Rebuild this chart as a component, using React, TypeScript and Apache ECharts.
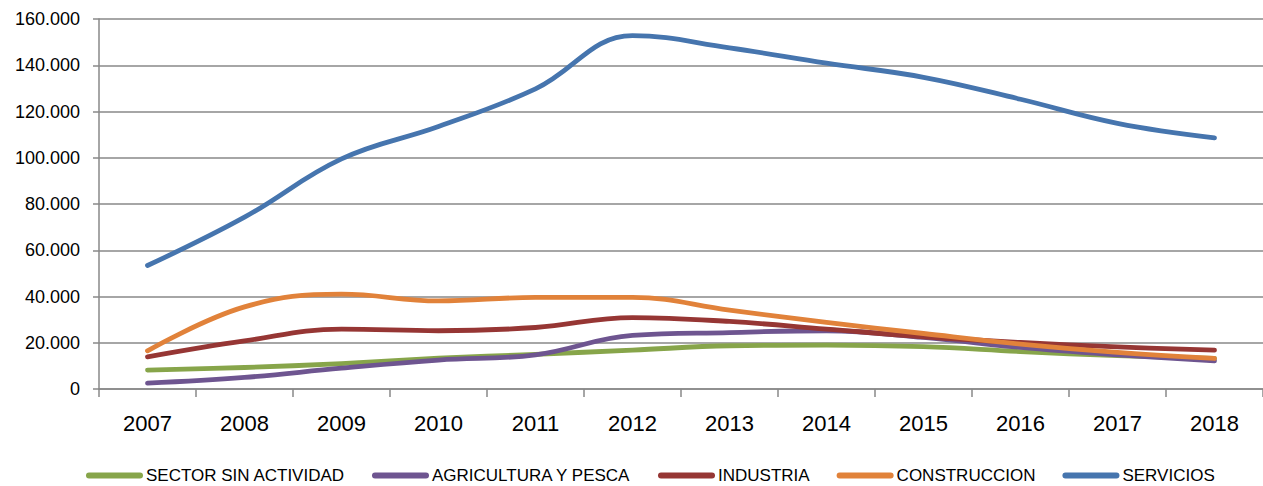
import React, { useEffect, useRef } from "react";
import * as echarts from "echarts";

const years = ["2007", "2008", "2009", "2010", "2011", "2012", "2013", "2014", "2015", "2016", "2017", "2018"];
const sectorSinActividad = [8200, 9300, 11000, 13300, 15000, 16800, 18700, 19000, 18300, 16200, 14400, 13200];
const agriculturaPesca = [2500, 5000, 9000, 12500, 14800, 23200, 24400, 25200, 22300, 18000, 14800, 12200];
const industria = [13900, 20800, 25900, 25200, 26600, 30900, 29200, 25900, 22600, 20100, 18200, 16800];
const construccion = [16500, 35500, 41000, 38100, 39600, 39600, 34100, 28800, 24000, 19400, 15800, 13200];
const servicios = [53400, 74300, 99500, 113500, 129800, 152800, 147500, 140900, 134800, 125300, 114900, 108600];

const seriesNames = ["SECTOR SIN ACTIVIDAD", "AGRICULTURA Y PESCA", "INDUSTRIA", "CONSTRUCCION", "SERVICIOS"];
const seriesColors = ["#87A54A", "#6E5590", "#963634", "#E1823A", "#4675AE"];

const FONT = "'Liberation Sans', Arial, sans-serif";

function fmt(v: number): string {
  if (v === 0) return "0";
  const s = String(Math.round(v));
  return s.replace(/\B(?=(\d{3})+(?!\d))/g, ".");
}

export default function App() {
  const ref = useRef<HTMLDivElement>(null);
  useEffect(() => {
    if (!ref.current) return;
    const chart = echarts.init(ref.current, null, { renderer: "svg" });
    const data = [sectorSinActividad, agriculturaPesca, industria, construccion, servicios];
    chart.setOption({
      animation: false,
      backgroundColor: "#ffffff",
      textStyle: { fontFamily: FONT },
      grid: { left: 99, right: -14, top: 19, bottom: 97, containLabel: false },
      legend: {
        left: 81,
        top: 462,
        itemWidth: 57,
        itemHeight: 6,
        itemGap: 27,
        icon: "path://M3,0 L54,0 A3,3 0 0 1 54,6 L3,6 A3,3 0 0 1 3,0 Z",
        textStyle: { fontSize: 17, color: "#000000", fontFamily: FONT, padding: [0, 0, 0, -2] },
        data: seriesNames,
      },
      xAxis: {
        type: "category",
        data: years,
        boundaryGap: true,
        axisLine: { lineStyle: { color: "#888888", width: 1.5 } },
        axisTick: { show: true, interval: 0, length: 8, lineStyle: { color: "#888888", width: 1.5 } },
        axisLabel: { fontSize: 22, color: "#000000", margin: 23, fontFamily: FONT },
        splitLine: { show: false },
      },
      yAxis: {
        type: "value",
        min: 0,
        max: 160000,
        interval: 20000,
        axisLine: { show: true, lineStyle: { color: "#888888", width: 1.5 } },
        axisTick: { show: true, length: 6, lineStyle: { color: "#888888", width: 1.5 } },
        axisLabel: { fontSize: 18, color: "#000000", margin: 19, fontFamily: FONT, formatter: (v: number) => fmt(v) },
        splitLine: { show: true, lineStyle: { color: "#888888", width: 1.5 } },
      },
      series: seriesNames.map((name, i) => ({
        name,
        type: "line",
        data: data[i],
        smooth: 0.4,
        showSymbol: false,
        symbol: "none",
        color: seriesColors[i],
        lineStyle: { width: 4.8, color: seriesColors[i], cap: "round", join: "round" },
      })),
    });
    return () => chart.dispose();
  }, []);
  return (
    <div
      ref={ref}
      style={{ position: "absolute", left: 0, top: 0, width: 1263, height: 486 }}
    />
  );
}
